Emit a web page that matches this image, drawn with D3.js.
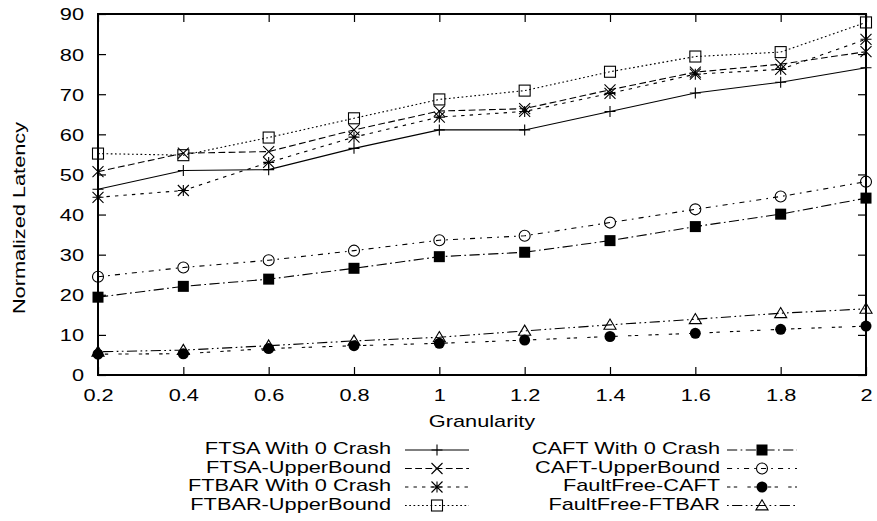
<!DOCTYPE html>
<html><head><meta charset="utf-8">
<script src="https://cdn.jsdelivr.net/npm/d3@7/dist/d3.min.js"></script>
<style>body{margin:0;background:#fff}svg{display:block}text{font-family:"Liberation Sans",Arial,sans-serif;fill:#000}</style>
</head><body><svg id="c" width="877" height="521"></svg>
<script>
const granularity = [0.2,0.4,0.6,0.8,1.0,1.2,1.4,1.6,1.8,2.0];
const xTickLabels = ["0.2","0.4","0.6","0.8","1","1.2","1.4","1.6","1.8","2"];
const yTicks = [0,10,20,30,40,50,60,70,80,90];
const seriesNames = ["FTSA With 0 Crash","FTSA-UpperBound","FTBAR With 0 Crash","FTBAR-UpperBound","CAFT With 0 Crash","CAFT-UpperBound","FaultFree-CAFT","FaultFree-FTBAR"];
const ftsa0    = [46.3,51.0,51.2,56.5,61.1,61.1,65.7,70.3,73.0,76.6];
const ftsaUB   = [50.7,55.3,55.7,61.1,65.8,66.4,71.1,75.5,77.5,80.6];
const ftbar0   = [44.3,46.0,53.0,59.3,64.3,65.7,70.2,75.0,76.2,83.7];
const ftbarUB  = [55.2,54.8,59.2,64.0,68.7,70.9,75.6,79.4,80.5,87.9];
const caft0    = [19.4,22.1,23.9,26.6,29.5,30.6,33.5,37.0,40.1,44.1];
const caftUB   = [24.5,26.8,28.6,31.0,33.6,34.7,38.0,41.3,44.5,48.2];
const ffCaft   = [5.2,5.3,6.6,7.3,7.9,8.7,9.6,10.4,11.4,12.2];
const ffFtbar  = [5.8,6.2,7.3,8.5,9.4,11.0,12.5,13.9,15.4,16.5];
const seriesValues = [ftsa0,ftsaUB,ftbar0,ftbarUB,caft0,caftUB,ffCaft,ffFtbar];

const dl = 1.7;
const dashes = [null,[4,2],[2,3],[1,1.5],[6,2,1,2],[3,3,1,3],[2,2,2,6],[1,2,6,2,1,2]];
const markers = ["plus","cross","star","sq","sqf","circ","circf","tri"];

const svg = d3.select("#c");
const L=98,R=866,T=14,B=375;
const x = d3.scaleLinear().domain([0.2,2]).range([L,R]);
const y = d3.scaleLinear().domain([0,90]).range([B,T]);
const FS = 17, SX = 1.28;

function stretch(sel){
  sel.each(function(){
    const t = d3.select(this);
    const tx = +(t.attr("x")||0);
    t.attr("x",0).attr("transform",`translate(${tx},0) scale(${SX},1)`);
  });
}

function drawMarker(g, type, cx, cy){
  const s=5.5;
  const p = (d,fill)=>g.append("path").attr("d",d).attr("stroke","#000").attr("stroke-width",1.1).attr("fill",fill||"none");
  if(type==="plus") p(`M${cx-s},${cy}H${cx+s}M${cx},${cy-s}V${cy+s}`);
  else if(type==="cross") p(`M${cx-s},${cy-s}L${cx+s},${cy+s}M${cx-s},${cy+s}L${cx+s},${cy-s}`);
  else if(type==="star") p(`M${cx-s},${cy}H${cx+s}M${cx},${cy-s}V${cy+s}M${cx-s},${cy-s}L${cx+s},${cy+s}M${cx-s},${cy+s}L${cx+s},${cy-s}`);
  else if(type==="sq") g.append("rect").attr("x",cx-s).attr("y",cy-s).attr("width",2*s).attr("height",2*s).attr("fill","none").attr("stroke","#000").attr("stroke-width",1.1);
  else if(type==="sqf") g.append("rect").attr("x",cx-s).attr("y",cy-s).attr("width",2*s).attr("height",2*s).attr("fill","#000");
  else if(type==="circ") g.append("circle").attr("cx",cx).attr("cy",cy).attr("r",s).attr("fill","none").attr("stroke","#000").attr("stroke-width",1.1);
  else if(type==="circf") g.append("circle").attr("cx",cx).attr("cy",cy).attr("r",s).attr("fill","#000");
  else if(type==="tri") p(`M${cx},${cy-s*1.05}L${cx+s*1.1},${cy+s*0.8}L${cx-s*1.1},${cy+s*0.8}Z`);
}

// axes
const ax = svg.append("g");
const gb = ax.append("g").attr("transform",`translate(0,${B})`)
  .call(d3.axisBottom(x).tickValues(granularity).tickFormat((d,i)=>xTickLabels[i]).tickSizeInner(-8).tickSizeOuter(0).tickPadding(14));
ax.append("g").attr("transform",`translate(0,${T})`)
  .call(d3.axisTop(x).tickValues(granularity).tickFormat("").tickSizeInner(-8).tickSizeOuter(0));
const gl = ax.append("g").attr("transform",`translate(${L},0)`)
  .call(d3.axisLeft(y).tickValues(yTicks).tickFormat(d3.format("d")).tickSizeInner(-8).tickSizeOuter(0).tickPadding(14));
ax.append("g").attr("transform",`translate(${R},0)`)
  .call(d3.axisRight(y).tickValues(yTicks).tickFormat("").tickSizeInner(-8).tickSizeOuter(0));
ax.selectAll(".domain").remove();
ax.selectAll(".tick line").attr("stroke","#000").attr("stroke-width",1.2);
ax.selectAll(".tick text").attr("font-size",FS).attr("font-family","Liberation Sans, Arial, sans-serif").attr("fill","#000");
gb.selectAll(".tick text").attr("dy","0.71em");
gl.selectAll(".tick text").attr("dy","0.35em");
stretch(gb.selectAll(".tick text"));
stretch(gl.selectAll(".tick text"));

// series
const line = d3.line().x((d,i)=>x(granularity[i])).y(d=>y(d));
const plot = svg.append("g");
seriesValues.forEach((vals,k)=>{
  plot.append("path").attr("d",line(vals)).attr("fill","none").attr("stroke","#000").attr("stroke-width",1.1)
    .attr("stroke-dasharray",dashes[k]?dashes[k].map(v=>v*dl).join(","):null);
  const mg = plot.append("g");
  vals.forEach((v,i)=>drawMarker(mg,markers[k],x(granularity[i]),y(v)));
});

// frame
svg.append("rect").attr("x",L).attr("y",T).attr("width",R-L).attr("height",B-T).attr("fill","none").attr("stroke","#000").attr("stroke-width",2);

// labels
svg.append("text").attr("transform",`translate(${(L+R)/2},423) scale(${SX},1)`).attr("text-anchor","middle").attr("dominant-baseline","middle").attr("font-size",FS).text("Granularity");
svg.append("text").attr("transform",`translate(21,218) rotate(-90) scale(${SX},1)`).attr("text-anchor","middle").attr("dominant-baseline","middle").attr("font-size",FS).text("Normalized Latency");

// legend
const rowY = [450,468.5,487,505.5];
const cols = [{tx:391,x0:405,x1:469},{tx:720,x0:727,x1:797}];
seriesNames.forEach((name,k)=>{
  const c = cols[Math.floor(k/4)], ry = rowY[k%4];
  svg.append("text").attr("transform",`translate(${c.tx},${ry}) scale(${SX},1)`).attr("text-anchor","end").attr("dominant-baseline","middle").attr("font-size",FS).text(name);
  svg.append("line").attr("x1",c.x0).attr("x2",c.x1).attr("y1",ry).attr("y2",ry).attr("stroke","#000").attr("stroke-width",1.1)
    .attr("stroke-dasharray",dashes[k]?dashes[k].map(v=>v*dl).join(","):null);
  drawMarker(svg.append("g"),markers[k],(c.x0+c.x1)/2,ry);
});
</script></body></html>
